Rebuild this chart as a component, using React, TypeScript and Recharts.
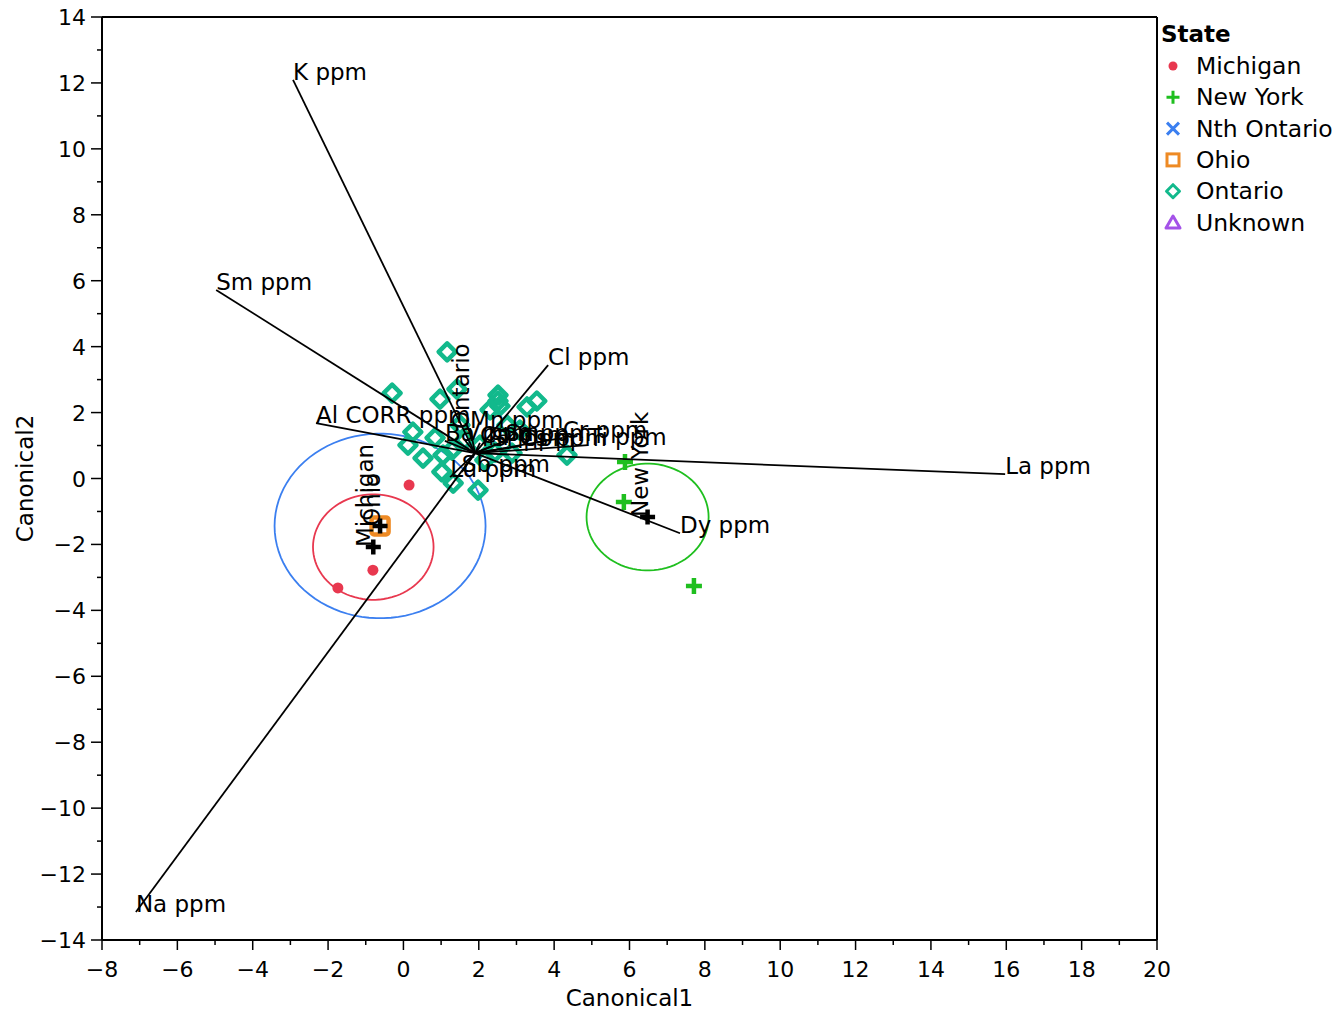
import React from 'react';
import { ScatterChart, Scatter, XAxis, YAxis, ReferenceLine } from 'recharts';

const FONT = '"DejaVu Sans", Verdana, sans-serif';

// ---- data ----
const michigan = [
  { x: 0.15, y: -0.2 },
  { x: -0.81, y: -2.78 },
  { x: -1.74, y: -3.32 },
];
const newYork = [
  { x: 5.88, y: 0.5 },
  { x: 5.85, y: -0.71 },
  { x: 7.71, y: -3.26 },
];
const ohio = [{ x: -0.62, y: -1.44 }];
const ontario = [
  { x: 1.16, y: 3.84 }, { x: -0.3, y: 2.59 }, { x: 0.97, y: 2.41 }, { x: 1.42, y: 2.71 },
  { x: 2.51, y: 2.53 }, { x: 2.51, y: 2.35 }, { x: 2.56, y: 2.2 }, { x: 3.54, y: 2.35 },
  { x: 3.28, y: 2.17 }, { x: 0.25, y: 1.41 }, { x: 0.12, y: 1.01 }, { x: 0.52, y: 0.62 },
  { x: 0.84, y: 1.23 }, { x: 1.05, y: 0.71 }, { x: 1.02, y: 0.2 }, { x: 1.32, y: -0.14 },
  { x: 1.98, y: -0.35 }, { x: 4.34, y: 0.71 }, { x: 1.29, y: 0.86 }, { x: 2.75, y: 1.62 },
  { x: 2.88, y: 0.77 }, { x: 2.3, y: 2.08 }, { x: 1.63, y: 1.17 }, { x: 2.03, y: 1.01 },
  { x: 2.43, y: 0.8 }, { x: 1.5, y: 1.62 }, { x: 3.09, y: 1.47 }, { x: 2.16, y: 0.56 },
];
const groupMeans = [
  { name: 'Michigan', x: -0.8, y: -2.08 },
  { name: 'Ohio', x: -0.62, y: -1.44 },
  { name: 'New York', x: 6.48, y: -1.17 },
];
const groupLabels = [
  { name: 'Ontario', x: 1.74, y: 1.5 },
  { name: 'Michigan', x: -0.8, y: -2.08 },
  { name: 'Ohio', x: -0.62, y: -1.44 },
  { name: 'New York', x: 6.48, y: -1.17 },
];
const confCircles = [
  { key: 'nth', color: '#3b7ff0', x: -0.62, y: -1.44, r: 2.8 },
  { key: 'mi', color: '#e8384f', x: -0.8, y: -2.08, r: 1.6 },
  { key: 'ny', color: '#1fbf1f', x: 6.48, y: -1.17, r: 1.62 },
];
const rayOrigin = { x: 1.9, y: 0.77 };
const rays = [
  { label: 'K ppm', x: -2.93, y: 12.09 },
  { label: 'Sm ppm', x: -4.97, y: 5.72 },
  { label: 'Cl ppm', x: 3.84, y: 3.44 },
  { label: 'Al CORR ppm', x: -2.32, y: 1.68 },
  { label: 'La ppm', x: 15.97, y: 0.13 },
  { label: 'Dy ppm', x: 7.34, y: -1.66 },
  { label: 'Na ppm', x: -7.1, y: -13.15 },
  { label: 'Mn ppm', x: 1.77, y: 1.53 },
  { label: 'Ba ppm', x: 1.1, y: 1.14 },
  { label: 'V ppm', x: 1.63, y: 1.17 },
  { label: 'Ca ppm', x: 2.03, y: 1.08 },
  { label: 'Sr ppm', x: 2.35, y: 0.98 },
  { label: 'Sc ppm', x: 2.7, y: 1.14 },
  { label: 'Cs ppm', x: 3.09, y: 0.98 },
  { label: 'Cr ppm', x: 4.23, y: 1.23 },
  { label: 'Ti ppm', x: 4.9, y: 1.01 },
  { label: 'Lu ppm', x: 1.24, y: 0.04 },
  { label: 'Sb ppm', x: 1.55, y: 0.2 },
];
const xTicks = [-8, -7, -6, -5, -4, -3, -2, -1, 0, 1, 2, 3, 4, 5, 6, 7, 8, 9, 10, 11, 12, 13, 14, 15, 16, 17, 18, 19, 20];
const yTicks = [-14, -13, -12, -11, -10, -9, -8, -7, -6, -5, -4, -3, -2, -1, 0, 1, 2, 3, 4, 5, 6, 7, 8, 9, 10, 11, 12, 13, 14];
const legendItems = ['Michigan', 'New York', 'Nth Ontario', 'Ohio', 'Ontario', 'Unknown'];

const COLORS: Record<string, string> = {
  Michigan: '#e8384f',
  'New York': '#1fbf1f',
  'Nth Ontario': '#3b7ff0',
  Ohio: '#ee8a24',
  Ontario: '#12b98c',
  Unknown: '#a452e8',
};

// circle outline in data space built from centre & radius
const circlePoints = (c: { x: number; y: number; r: number }) => {
  const pts = [];
  for (let i = 0; i <= 90; i++) {
    const t = (i / 90) * Math.PI * 2;
    pts.push({ x: c.x + c.r * Math.cos(t), y: c.y + c.r * Math.sin(t) });
  }
  return pts;
};

const fmt = (v: number) => (v < 0 ? '\u2212' + Math.abs(v) : String(v));

const XTick = (props: any) => {
  const { x, y, payload } = props;
  const v = payload.value;
  const major = v % 2 === 0;
  return (
    <g>
      <line x1={x} x2={x} y1={y} y2={y + (major ? 10 : 5)} stroke="#000" strokeWidth={1.5} />
      {major && (
        <text x={x} y={y + 37} textAnchor="middle" fontSize={22} fontFamily={FONT} fill="#000">
          {fmt(v)}
        </text>
      )}
    </g>
  );
};

const YTick = (props: any) => {
  const { x, y, payload } = props;
  const v = payload.value;
  const major = v % 2 === 0;
  return (
    <g>
      <line x1={x} x2={x - (major ? 11 : 5)} y1={y} y2={y} stroke="#000" strokeWidth={1.5} />
      {major && (
        <text x={x - 16} y={y + 8} textAnchor="end" fontSize={22} fontFamily={FONT} fill="#000">
          {fmt(v)}
        </text>
      )}
    </g>
  );
};

const XLabel = (props: any) => {
  const vb = props.viewBox || {};
  return (
    <text x={vb.x + vb.width / 2} y={vb.y + 66} textAnchor="middle" fontSize={23} fontFamily={FONT} fill="#000">
      Canonical1
    </text>
  );
};
const YLabel = (props: any) => {
  const vb = props.viewBox || {};
  const cx = 17;
  const cy = vb.y + vb.height / 2;
  return (
    <text x={cx} y={cy} transform={`rotate(-90, ${cx}, ${cy})`} textAnchor="middle" dominantBaseline="central" fontSize={23} fontFamily={FONT} fill="#000">
      Canonical2
    </text>
  );
};

const Nothing = () => <g />;

const Dot = (p: any) => <circle cx={p.cx} cy={p.cy} r={5.5} fill={COLORS.Michigan} />;
const GreenPlus = (p: any) => (
  <path d={`M${p.cx - 8},${p.cy}H${p.cx + 8}M${p.cx},${p.cy - 8}V${p.cy + 8}`} stroke={COLORS['New York']} strokeWidth={4.5} />
);
const Square = (p: any) => (
  <rect x={p.cx - 8.5} y={p.cy - 8.5} width={17} height={17} rx={2.5} fill="none" stroke={COLORS.Ohio} strokeWidth={4.5} />
);
const Diamond = (p: any) => (
  <path
    d={`M${p.cx},${p.cy - 8.5}L${p.cx + 8.5},${p.cy}L${p.cx},${p.cy + 8.5}L${p.cx - 8.5},${p.cy}Z`}
    fill="none"
    stroke={COLORS.Ontario}
    strokeWidth={4.5}
    strokeLinejoin="round"
  />
);
const MeanMark = (p: any) => (
  <path d={`M${p.cx - 7.5},${p.cy}H${p.cx + 7.5}M${p.cx},${p.cy - 7.5}V${p.cy + 7.5}`} stroke="#000" strokeWidth={4.5} />
);
const GroupLabel = (p: any) => (
  <text
    x={p.cx}
    y={p.cy}
    transform={`rotate(-90, ${p.cx}, ${p.cy})`}
    textAnchor="start"
    fontSize={23}
    fontFamily={FONT}
    fill="#000"
  >
    {p.payload.name}
  </text>
);
const RayLabel = (p: any) =>
  p.payload && p.payload.label ? (
    <text x={p.cx} y={p.cy} fontSize={23} fontFamily={FONT} fill="#000">
      {p.payload.label}
    </text>
  ) : (
    <g />
  );

const LegendIcon = ({ name, cx, cy }: { name: string; cx: number; cy: number }) => {
  const c = COLORS[name];
  switch (name) {
    case 'Michigan':
      return <circle cx={cx} cy={cy} r={4.5} fill={c} />;
    case 'New York':
      return <path d={`M${cx - 6.5},${cy}H${cx + 6.5}M${cx},${cy - 6.5}V${cy + 6.5}`} stroke={c} strokeWidth={3} />;
    case 'Nth Ontario':
      return <path d={`M${cx - 6},${cy - 6}L${cx + 6},${cy + 6}M${cx + 6},${cy - 6}L${cx - 6},${cy + 6}`} stroke={c} strokeWidth={3} />;
    case 'Ohio':
      return <rect x={cx - 6} y={cy - 6} width={12} height={12} fill="none" stroke={c} strokeWidth={3} />;
    case 'Ontario':
      return <path d={`M${cx},${cy - 6.5}L${cx + 6.5},${cy}L${cx},${cy + 6.5}L${cx - 6.5},${cy}Z`} fill="none" stroke={c} strokeWidth={3} strokeLinejoin="round" />;
    default:
      return <path d={`M${cx},${cy - 6.5}L${cx + 7},${cy + 5.5}L${cx - 7},${cy + 5.5}Z`} fill="none" stroke={c} strokeWidth={3} strokeLinejoin="round" />;
  }
};

export default function App() {
  const W = 1336;
  const H = 1004;
  return (
    <div style={{ position: 'relative', width: W, height: H }}>
      <ScatterChart width={W} height={H} margin={{ top: 9, right: 187, bottom: 0, left: 0 }}>
        <XAxis
          type="number"
          dataKey="x"
          domain={[-8, 20]}
          ticks={xTicks}
          interval={0}
          tickSize={0}
          tickMargin={0}
          tickLine={false}
          tick={<XTick />}
          axisLine={{ stroke: '#000', strokeWidth: 2 }}
          height={72}
          allowDataOverflow
          label={<XLabel />}
        />
        <YAxis
          type="number"
          dataKey="y"
          domain={[-14, 14]}
          ticks={yTicks}
          interval={0}
          tickSize={0}
          tickMargin={0}
          tickLine={false}
          tick={<YTick />}
          axisLine={{ stroke: '#000', strokeWidth: 2 }}
          width={94}
          allowDataOverflow
          label={<YLabel />}
        />
        <ReferenceLine y={14} stroke="#000" strokeWidth={2} />
        <ReferenceLine x={20} stroke="#000" strokeWidth={2} />

        {confCircles.map((c) => (
          <Scatter
            key={c.key}
            data={circlePoints(c)}
            line={{ stroke: c.color, strokeWidth: 1.8 }}
            shape={<Nothing />}
            isAnimationActive={false}
          />
        ))}

        <Scatter data={ontario} shape={<Diamond />} isAnimationActive={false} />
        <Scatter data={michigan} shape={<Dot />} isAnimationActive={false} />
        <Scatter data={newYork} shape={<GreenPlus />} isAnimationActive={false} />
        <Scatter data={ohio} shape={<Square />} isAnimationActive={false} />

        {rays.map((r) => (
          <Scatter
            key={r.label}
            data={[rayOrigin, r]}
            line={{ stroke: '#000', strokeWidth: 1.8 }}
            shape={<RayLabel />}
            isAnimationActive={false}
          />
        ))}

        <Scatter data={groupMeans} shape={<MeanMark />} isAnimationActive={false} />
        <Scatter data={groupLabels} shape={<GroupLabel />} isAnimationActive={false} />
      </ScatterChart>

      <svg style={{ position: 'absolute', left: 1145, top: 0 }} width={191} height={240}>
        <text x={8} y={34} fontSize={23} fontWeight="bold" fontFamily={FONT} fill="#000">
          State
        </text>
        {legendItems.map((name, i) => (
          <g key={name}>
            <LegendIcon name={name} cx={20} cy={58 + i * 31.3} />
            <text x={43} y={66 + i * 31.3} fontSize={23.5} fontFamily={FONT} fill="#000">
              {name}
            </text>
          </g>
        ))}
      </svg>
    </div>
  );
}
